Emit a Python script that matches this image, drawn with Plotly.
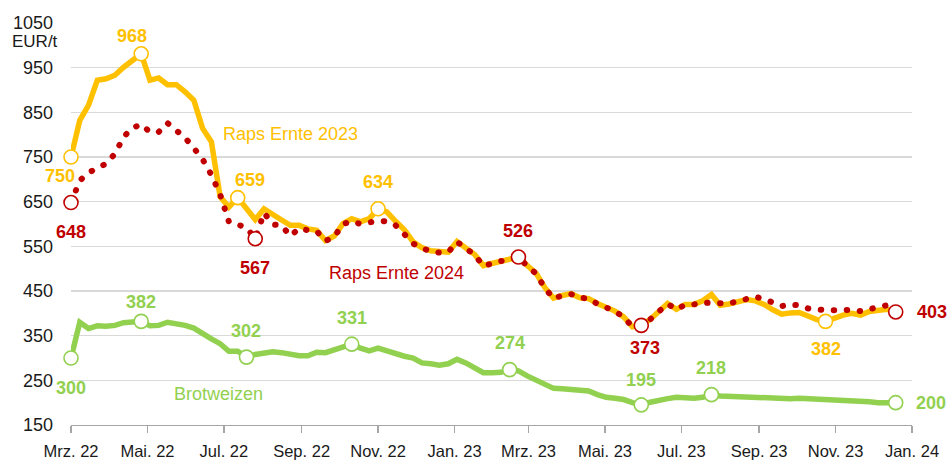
import pandas as pd
import plotly.graph_objects as go

# ---------------- data ----------------
weeks = pd.date_range("2022-03-01", periods=95, freq="7D")

raps_2023 = [750, 832, 866, 922, 925, 933, 951, 965, 981, 922,
             927, 912, 912, 896, 877, 814, 784, 661, 638, 659,
             635, 610, 634, 623, 609, 597, 597, 589, 586, 563,
             573, 601, 612, 605, 612, 634, 627, 606, 587, 560,
             547, 540, 537, 537, 561, 545, 532, 507, 512, 517,
             520, 526, 507, 490, 458, 434, 440, 444, 435, 433,
             422, 414, 405, 392, 370, 373, 386, 404, 422, 409,
             420, 420, 428, 442, 418, 421, 426, 431, 428, 420,
             408, 398, 401, 402, 394, 386, 382, 390, 396, 400,
             396, 404, 408, 409, 405]

raps_2024 = [648, 697, 715, 724, 735, 757, 795, 815, 823, 806,
             806, 826, 810, 793, 770, 745, 710, 666, 605, 598,
             592, 567, 625, 599, 597, 573, 590, 586, 584, 562,
             571, 600, 606, 600, 604, 607, 606, 597, 577, 556,
             546, 539, 536, 537, 560, 544, 531, 506, 512, 517,
             520, 526, 506, 489, 457, 433, 440, 443, 435, 433,
             421, 413, 405, 391, 370, 373, 386, 404, 421, 409,
             419, 420, 424, 423, 422, 422, 427, 432, 437, 432,
             423, 416, 420, 418, 411, 408, 407, 407, 408, 408,
             405, 409, 413, 418, 403]

brotweizen = [300, 380, 366, 372, 371, 373, 379, 382, 382, 372,
              373, 380, 378, 373, 367, 354, 343, 332, 315, 315,
              302, 308, 312, 314, 312, 307, 305, 305, 313, 312,
              318, 325, 331, 322, 316, 322, 316, 308, 304, 300,
              289, 287, 284, 287, 297, 289, 278, 267, 267, 268,
              274, 271, 260, 250, 239, 232, 231, 230, 228, 226,
              218, 212, 210, 207, 200, 195, 201, 206, 209, 212,
              210, 210, 212, 218, 215, 214, 213, 212, 211, 211,
              210, 210, 209, 210, 209, 208, 208, 208, 207, 207,
              205, 202, 200, 201, 200]

tick_dates = ["2022-03-01", "2022-05-01", "2022-07-01", "2022-09-01",
              "2022-11-01", "2023-01-01", "2023-03-01", "2023-05-01",
              "2023-07-01", "2023-09-01", "2023-11-01", "2024-01-01"]
tick_labels = ["Mrz. 22", "Mai. 22", "Jul. 22", "Sep. 22", "Nov. 22",
               "Jan. 23", "Mrz. 23", "Mai. 23", "Jul. 23", "Sep. 23",
               "Nov. 23", "Jan. 24"]
y_ticks = [150, 250, 350, 450, 550, 650, 750, 850, 950, 1050]

# highlighted points (week index) and their printed labels
raps_2023_marks = [0, 8, 19, 35, 86]
raps_2023_texts = ["750", "968", "659", "634", "382"]
raps_2024_marks = [0, 21, 51, 65, 94]
raps_2024_texts = ["648", "567", "526", "373", "403"]
brotweizen_marks = [0, 8, 20, 32, 50, 65, 73, 94]
brotweizen_texts = ["300", "382", "302", "331", "274", "195", "218", "200"]

series_names = ["Raps Ernte 2023", "Raps Ernte 2024", "Brotweizen"]

# ---------------- styling ----------------
YELLOW = "#FFC000"
RED = "#C00000"
GREEN = "#92D050"
FONT = "Arial, 'Liberation Sans', sans-serif"

# label pixel offsets (xshift, yshift) for each highlighted point
raps_2023_offsets = [(-11, -19), (-9, 18), (12, 18), (0, 27), (0, -28)]
raps_2024_offsets = [(0, -29), (0, -29), (0, 26), (4, -23), (36, 0)]
brotweizen_offsets = [(0, -30), (0, 19), (0, 26), (0, 26), (0, 27),
                      (0, 25), (0, 27), (35, 0)]

fig = go.Figure()

fig.add_trace(go.Scatter(x=weeks, y=brotweizen, mode="lines",
                         line=dict(color=GREEN, width=5.5), hoverinfo="skip",
                         showlegend=False, name=series_names[2]))
fig.add_trace(go.Scatter(x=weeks, y=raps_2023, mode="lines",
                         line=dict(color=YELLOW, width=5.5), hoverinfo="skip",
                         showlegend=False, name=series_names[0]))
fig.add_trace(go.Scatter(x=weeks, y=raps_2024, mode="lines", uid="r24",
                         line=dict(color=RED, width=6, dash="0.5px,12.5px"),
                         hoverinfo="skip", showlegend=False,
                         name=series_names[1]))

annotations = []
for vals, marks, texts, offs, col in [
        (brotweizen, brotweizen_marks, brotweizen_texts, brotweizen_offsets, GREEN),
        (raps_2023, raps_2023_marks, raps_2023_texts, raps_2023_offsets, YELLOW),
        (raps_2024, raps_2024_marks, raps_2024_texts, raps_2024_offsets, RED)]:
    fig.add_trace(go.Scatter(
        x=[weeks[i] for i in marks], y=[vals[i] for i in marks],
        mode="markers", cliponaxis=False, hoverinfo="skip", showlegend=False,
        marker=dict(size=14, color="white", line=dict(color=col, width=1.6))))
    for i, t, (dx, dy) in zip(marks, texts, offs):
        annotations.append(dict(
            x=weeks[i], y=vals[i], text="<b>%s</b>" % t, showarrow=False,
            xshift=dx, yshift=dy, xanchor="center", yanchor="middle",
            font=dict(family=FONT, size=18, color=col)))

# series name labels
annotations += [
    dict(x="2022-08-23", y=801, text=series_names[0], showarrow=False,
         xanchor="center", yanchor="middle",
         font=dict(family=FONT, size=18, color=YELLOW)),
    dict(x="2022-11-16", y=490, text=series_names[1], showarrow=False,
         xanchor="center", yanchor="middle",
         font=dict(family=FONT, size=18, color=RED)),
    dict(x="2022-06-27", y=219, text=series_names[2], showarrow=False,
         xanchor="center", yanchor="middle",
         font=dict(family=FONT, size=18, color=GREEN)),
    dict(xref="paper", yref="paper", x=-0.013, y=0.953, text="EUR/t",
         showarrow=False, xanchor="right", yanchor="middle",
         font=dict(family=FONT, size=17, color="#1a1a1a")),
]

fig.update_layout(
    template="none",
    width=947, height=462, autosize=False,
    margin=dict(l=71, r=35, t=23, b=37, autoexpand=False),
    paper_bgcolor="white", plot_bgcolor="white",
    font=dict(family=FONT, size=17, color="#1a1a1a"),
    annotations=annotations,
    xaxis=dict(range=["2022-03-01", "2024-01-01"], tickvals=tick_dates,
               ticktext=tick_labels, showgrid=False, showline=True,
               linecolor="#A6A6A6", linewidth=1.3, ticks="outside",
               ticklen=7, tickcolor="#A6A6A6", tickwidth=1.3,
               ticklabelstandoff=4, zeroline=False, automargin=False,
               tickfont=dict(family=FONT, size=16.5, color="#1a1a1a")),
    yaxis=dict(range=[150, 1050], tickvals=y_ticks, showgrid=True,
               gridcolor="#D9D9D9", gridwidth=1.3, zeroline=False,
               showline=False, ticks="", ticklabelstandoff=17,
               automargin=False,
               tickfont=dict(family=FONT, size=18, color="#1a1a1a")),
)

post = ("var s=document.createElement('style');"
        "s.textContent='html,body{margin:0 !important;padding:0 !important;overflow:hidden}"
        " .tracer24 .js-line{stroke-linecap:round !important}';"
        "document.head.appendChild(s);")
fig.write_html("out.html", post_script=post,
               config={"displayModeBar": False, "staticPlot": True})
